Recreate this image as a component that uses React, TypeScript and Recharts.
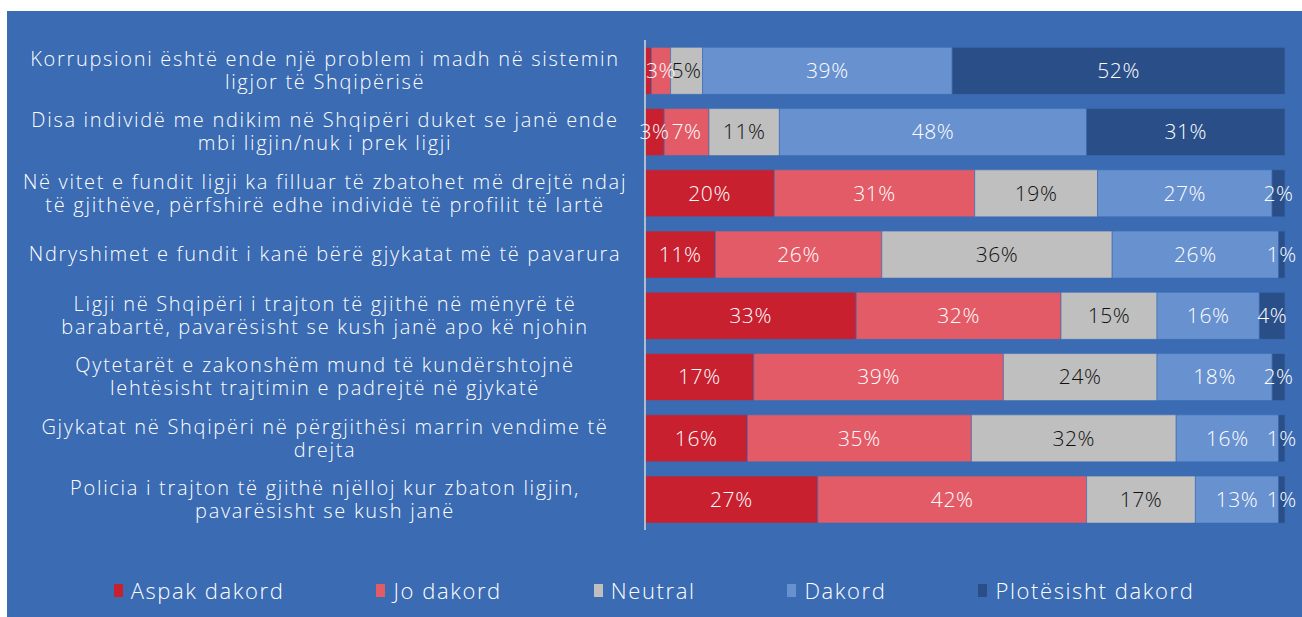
import { Bar, BarChart, LabelList, Legend, XAxis, YAxis } from "recharts";

const statements = [
  "Korrupsioni është ende një problem i madh në sistemin\nligjor të Shqipërisë",
  "Disa individë me ndikim në Shqipëri duket se janë ende\nmbi ligjin/nuk i prek ligji",
  "Në vitet e fundit ligji ka filluar të zbatohet më drejtë ndaj\ntë gjithëve, përfshirë edhe individë të profilit të lartë",
  "Ndryshimet e fundit i kanë bërë gjykatat më të pavarura",
  "Ligji në Shqipëri i trajton të gjithë në mënyrë të\nbarabartë, pavarësisht se kush janë apo kë njohin",
  "Qytetarët e zakonshëm mund të kundërshtojnë\nlehtësisht trajtimin e padrejtë në gjykatë",
  "Gjykatat në Shqipëri në përgjithësi marrin vendime të\ndrejta",
  "Policia i trajton të gjithë njëlloj kur zbaton ligjin,\npavarësisht se kush janë",
];

const aspakDakord = [1, 3, 20, 11, 33, 17, 16, 27];
const joDakord = [3, 7, 31, 26, 32, 39, 35, 42];
const neutral = [5, 11, 19, 36, 15, 24, 32, 17];
const dakord = [39, 48, 27, 26, 16, 18, 16, 13];
const plotesishtDakord = [52, 31, 2, 1, 4, 2, 1, 1];

const seriesInfo = [
  { key: "aspak", name: "Aspak dakord", color: "#C8202F", text: "#ffffff" },
  { key: "jo", name: "Jo dakord", color: "#E35B67", text: "#ffffff" },
  { key: "neutral", name: "Neutral", color: "#BFBFBF", text: "#111111" },
  { key: "dakord", name: "Dakord", color: "#6891CF", text: "#ffffff" },
  { key: "plotesisht", name: "Plotësisht dakord", color: "#2A4F88", text: "#ffffff" },
];

const data = statements.map((s, i) => ({
  statement: s,
  aspak: aspakDakord[i],
  jo: joDakord[i],
  neutral: neutral[i],
  dakord: dakord[i],
  plotesisht: plotesishtDakord[i],
}));

const FONT = "'Open Sans', sans-serif";
const BG = "#3A6BB3";

function StatementTick({ y, payload }: any) {
  const lines = String(payload.value).split("\n");
  const cx = 318;
  const offset = ((lines.length - 1) * 23) / 2;
  return (
    <g>
      {lines.map((line, i) => (
        <text
          key={i}
          x={cx}
          y={y - offset + i * 23}
          dy="0.35em"
          textAnchor="middle"
          fill="#ffffff"
          fontFamily={FONT}
          fontWeight={300}
          fontSize={20}
          letterSpacing={1.7}
        >
          {line}
        </text>
      ))}
    </g>
  );
}

function makeLabel(color: string, hideSmall: boolean) {
  return (props: any) => {
    const { x, y, width, height, value } = props;
    if (hideSmall && value < 2) return null;
    return (
      <text
        x={x + width / 2}
        y={y + height / 2}
        dy="0.35em"
        textAnchor="middle"
        fill={color}
        fontFamily={FONT}
        fontWeight={300}
        fontSize={21}
        letterSpacing={0.6}
      >
        {`${value}%`}
      </text>
    );
  };
}

function LegendRow() {
  return (
    <div
      style={{
        display: "flex",
        justifyContent: "center",
        gap: 92,
        marginLeft: 16,
        fontFamily: FONT,
        fontWeight: 300,
        fontSize: 22,
        letterSpacing: 1.6,
        color: "#ffffff",
      }}
    >
      {seriesInfo.map((s) => (
        <div key={s.key} style={{ display: "flex", alignItems: "center" }}>
          <span
            style={{
              display: "inline-block",
              width: 9,
              height: 13,
              background: s.color,
              marginRight: 8,
            }}
          />
          {s.name}
        </div>
      ))}
    </div>
  );
}

export default function App() {
  return (
    <div
      style={{
        position: "absolute",
        left: 7,
        top: 11,
        width: 1295,
        height: 606,
        background: BG,
      }}
    >
      <BarChart
        width={1295}
        height={606}
        data={data}
        layout="vertical"
        stackOffset="expand"
        barCategoryGap="12%"
        margin={{ top: 29, right: 17, bottom: 57, left: 0 }}
      >
        <XAxis type="number" hide domain={[0, 1]} />
        <YAxis
          type="category"
          dataKey="statement"
          width={638}
          axisLine={{ stroke: "#D9D9D9", strokeWidth: 1.5 }}
          tickLine={false}
          tick={<StatementTick />}
          interval={0}
        />
        <Legend
          verticalAlign="bottom"
          content={() => <LegendRow />}
          wrapperStyle={{ bottom: 12 }}
        />
        {seriesInfo.map((s, idx) => (
          <Bar
            key={s.key}
            dataKey={s.key}
            name={s.name}
            stackId="a"
            fill={s.color}
            stroke={BG}
            strokeWidth={0.6}
            isAnimationActive={false}
          >
            <LabelList dataKey={s.key} content={makeLabel(s.text, idx === 0)} />
          </Bar>
        ))}
      </BarChart>
    </div>
  );
}
